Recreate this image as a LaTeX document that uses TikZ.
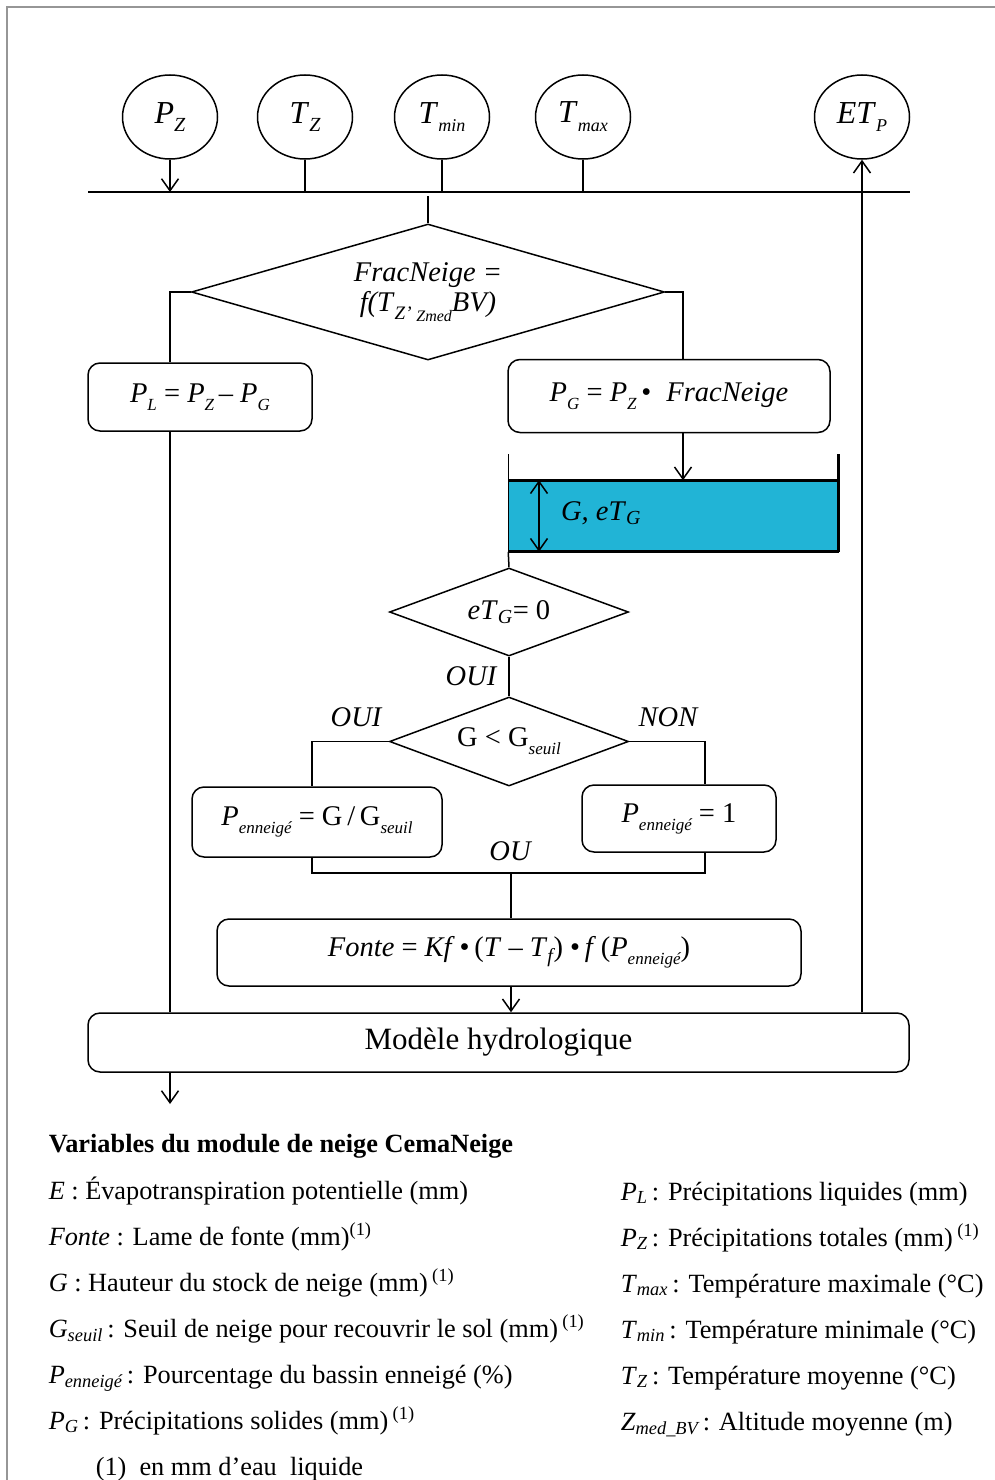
\documentclass[tikz,border=0pt]{standalone}
\usepackage{fontspec}
\setmainfont{Liberation Serif}
\usetikzlibrary{shapes.geometric,arrows.meta,calc}
\definecolor{snowblue}{RGB}{33,180,214}
\definecolor{framegray}{RGB}{150,150,150}
\newcommand\lo[2][17]{\raisebox{-0.6ex}{\fontsize{#1}{#1}\selectfont\itshape #2}}
\newcommand\ls[1]{\textsubscript{\itshape #1}}
\newcommand\sx{\,\textsuperscript{(1)}}
\begin{document}
\begin{tikzpicture}[x=1pt,y=-1pt,line width=1.5pt,
  arr/.style={-{Straight Barb[length=12pt,width=17pt]}},
  darr/.style={{Straight Barb[length=12pt,width=17pt]}-{Straight Barb[length=12pt,width=17pt]}},
  var/.style={ellipse,draw,minimum width=95pt,minimum height=84pt,inner sep=0pt,font=\fontsize{32}{34}\selectfont},
  dia/.style={diamond,draw,inner sep=0pt,font=\fontsize{28.5}{32}\selectfont},
  box/.style={rectangle,draw,rounded corners=12pt,inner sep=0pt,font=\fontsize{28.5}{32}\selectfont},
  lbl/.style={inner sep=0pt,font=\fontsize{28.5}{32}\selectfont\itshape},
  leg/.style={anchor=base west,inner sep=0pt,font=\fontsize{26.3}{30}\selectfont}]
\useasboundingbox (0,0) rectangle (995,1480);
% frame
\draw[framegray,line width=1.5pt] (7,1480) -- (7,7) -- (995,7);

% inputs
\node[var] (pz) at (170,117) {\textit{P}\lo[20]{Z}};
\node[var] (tz) at (305,117) {\textit{T}\lo[20]{Z}};
\node[var] (tmin) at (442,117) {\textit{T}\lo[18]{min}};
\node[var] (tmax) at (583,117) {\textit{T}\lo[18]{max}};
\node[var] (etp) at (862,117) {\textit{ET}\lo[18]{P}};

% bus
\coordinate (busL) at (88,192);
\coordinate (busR) at (910,192);
\draw (busL) -- (busR);
\draw[arr] (pz) -- (pz |- busL);
\draw (tz) -- (tz |- busL);
\draw (tmin) -- (tmin |- busL);
\draw (tmax) -- (tmax |- busL);

% column coordinates
\coordinate (lx) at (170,0);
\coordinate (rx) at (683,0);
\coordinate (busT) at (428,196);

% first decision
\node[dia,minimum width=473pt,minimum height=136pt,shape aspect=3.5,align=center] (d1) at (428,292)
  {\textit{FracNeige =}\\[-2pt]\textit{f(T}\lo[19]{Z’}\,\raisebox{-0.75ex}{\fontsize{16}{16}\selectfont\itshape Zmed}\textit{BV)}};
\draw (busT) -- (d1.north);

\node[box,minimum width=224pt,minimum height=68pt] (pl) at (200,397)
  {\textit{P}\lo{L} = \textit{P}\lo{Z}\,– \textit{P}\lo{G}};
\node[box,minimum width=322pt,minimum height=73pt] (pg) at (669,396)
  {\textit{P}\lo{G} = \textit{P}\lo{Z}\,•\; \textit{FracNeige}};
\draw (d1.west) -| (lx |- pl.north);
\draw (d1.east) -| (rx |- pg.north);

% reservoir
\node[rectangle,fill=snowblue,minimum width=329pt,minimum height=70pt,inner sep=0pt] (res) at (673.5,516) {};
\draw[line width=3pt] (res.north west) -- (res.north east);
\draw[line width=3pt] (res.south west) -- (res.south east);
\draw[line width=1.5pt] (res.south west) -- ++(0,-98);
\draw[line width=3pt] (res.south east) -- ++(0,-98);
\coordinate (dax) at (539,0);
\draw[darr] (dax |- res.north) -- (dax |- res.south);
\node[inner sep=0pt,font=\fontsize{28.5}{32}\selectfont] (gtxt) at (601,513) {\textit{G, eT}\ls{G}};
\draw[arr] (rx |- pg.south) -- (rx |- res.north);

% second decision
\node[dia,minimum width=239pt,minimum height=88pt,shape aspect=2.7] (d2) at (509,612)
  {\textit{eT}\ls{G}= 0};
\draw (res.south west) -- (d2.north);

\node[dia,minimum width=239pt,minimum height=89pt,shape aspect=2.7] (d3) at (509,741.5)
  {G < G\lo{seuil}};
\draw (d2.south) -- (d3.north);
\node[lbl] (oui1) at (471,676) {OUI};

\coordinate (b3x) at (312,0);
\coordinate (b4x) at (705,0);
\node[box,minimum width=250pt,minimum height=70pt] (b3) at (317,822)
  {\textit{P}\lo{enneigé} = G\,/\,G\lo{seuil}};
\node[box,minimum width=194pt,minimum height=67pt] (b4) at (679,818.5)
  {\textit{P}\lo{enneigé} = 1};
\draw (d3.west) -| (b3x |- b3.north);
\draw (d3.east) -| (b4x |- b4.north);
\node[lbl] (oui2) at (356,717) {OUI};
\node[lbl] (non) at (668,717) {NON};

\coordinate (join) at (511,873);
\draw (b3x |- b3.south) |- (join) -| (b4x |- b4.south);
\node[lbl] (ou) at (510,851) {OU};

% melt
\node[box,minimum width=584pt,minimum height=67pt] (fonte) at (509,952.5)
  {\textit{Fonte} = \textit{Kf}\,•\,(\textit{T} – \textit{T}\ls{f}) •\,\textit{f}\,(\textit{P}\lo{enneigé})};
\draw (join) -- (join |- fonte.north);

% model
\node[box,minimum width=821pt,minimum height=59pt,font=\fontsize{31}{32}\selectfont] (model) at (498.5,1042.5)
  {\raisebox{-2pt}{Modèle hydrologique}};
\draw[arr] (join |- fonte.south) -- (join |- model.north);
\draw (lx |- pl.south) -- (lx |- model.north);
\coordinate (out) at (170,1104);
\draw[arr] (lx |- model.south) -- (out);
\draw[arr] (etp |- model.north) -- (etp);

% legend
\node[leg,font=\fontsize{26.3}{30}\selectfont\bfseries] (title) at (48,1152) {Variables du module de neige CemaNeige};
\node[leg] (l1) at (48,1199) {\textit{E} : Évapotranspiration potentielle (mm)};
\node[leg] (l2) at (48,1245) {\textit{Fonte} : Lame de fonte (mm)\textsuperscript{(1)}};
\node[leg] (l3) at (48,1291) {\textit{G} : Hauteur du stock de neige (mm)\sx};
\node[leg] (l4) at (48,1337) {\textit{G}\ls{seuil}\,: Seuil de neige pour recouvrir le sol (mm)\sx};
\node[leg] (l5) at (48,1383) {\textit{P}\ls{enneigé}\,: Pourcentage du bassin enneigé (\%)};
\node[leg] (l6) at (48,1429) {\textit{P}\ls{G}\,: Précipitations solides (mm)\sx};
\node[leg] (l7) at (95,1475) {(1)\ \ en mm d’eau\ \ liquide};

\node[leg] (r1) at (620,1200) {\textit{P}\ls{L}\,: Précipitations liquides (mm)};
\node[leg] (r2) at (620,1246) {\textit{P}\ls{Z}\,: Précipitations totales (mm)\sx};
\node[leg] (r3) at (620,1292) {\textit{T}\ls{max}\,: Température maximale (°C)};
\node[leg] (r4) at (620,1338) {\textit{T}\ls{min}\,: Température minimale (°C)};
\node[leg] (r5) at (620,1384) {\textit{T}\ls{Z}\,: Température moyenne (°C)};
\node[leg] (r6) at (620,1430) {\textit{Z}\ls{med\_BV}\,: Altitude moyenne (m)};
\end{tikzpicture}
\end{document}
